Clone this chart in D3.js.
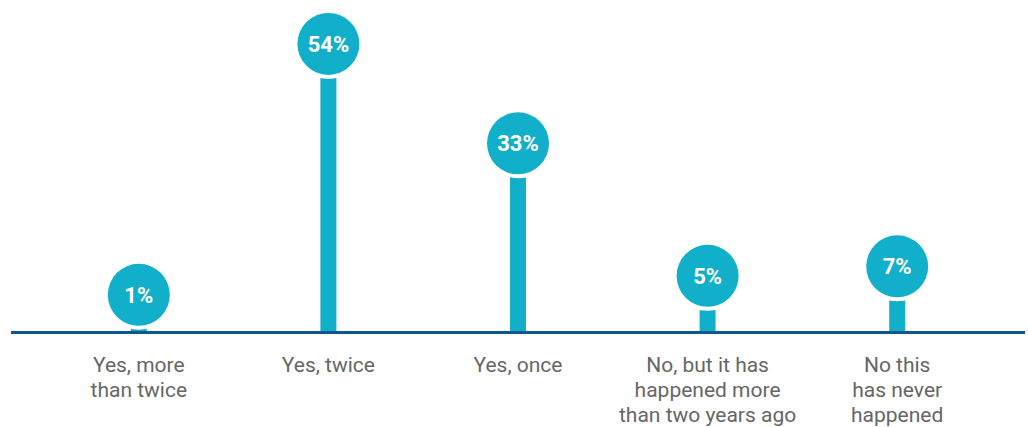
<!DOCTYPE html>
<html>
<head>
<meta charset="utf-8">
<script src="https://cdn.jsdelivr.net/npm/d3@7"></script>
<style>
  html, body { margin: 0; padding: 0; background: #fff; }
  svg { display: block; font-family: Roboto, "Noto Sans", sans-serif; }
</style>
</head>
<body>
<svg id="chart" width="1028" height="427"></svg>
<script>
// Survey answers and their shares (%)
const categories = [
  ["Yes, more", "than twice"],
  ["Yes, twice"],
  ["Yes, once"],
  ["No, but it has", "happened more", "than two years ago"],
  ["No this", "has never", "happened"]
];
const values = [1, 54, 33, 5, 7];
const valueLabels = ["1%", "54%", "33%", "5%", "7%"];

const W = 1028, H = 427;
const baseY = 332.5;
const radius = 31;
const lift = 33;        // bubble sits this far above the value position
const teal = "#12afcb";
const axisColor = "#0d5690";

const svg = d3.select("#chart");

const x = d3.scaleBand()
  .domain(d3.range(values.length))
  .range([44, 992])
  .padding(0);

const y = d3.scaleLinear()
  .domain([0, 60])
  .range([baseY, baseY - 284]);

const cx = i => x(i) + x.bandwidth() / 2;
const cy = v => y(v) - lift;

const g = svg.append("g");

// stems from the baseline up to each bubble
g.selectAll("rect.stem")
  .data(values)
  .join("rect")
  .attr("class", "stem")
  .attr("x", (d, i) => cx(i) - 8)
  .attr("width", 16)
  .attr("y", d => cy(d))
  .attr("height", d => baseY - cy(d))
  .attr("fill", teal);

// baseline
svg.append("line")
  .attr("x1", 11).attr("x2", 1025)
  .attr("y1", baseY).attr("y2", baseY)
  .attr("stroke", axisColor)
  .attr("stroke-width", 2.8);

// white halo around each bubble
g.selectAll("circle.halo")
  .data(values)
  .join("circle")
  .attr("class", "halo")
  .attr("cx", (d, i) => cx(i))
  .attr("cy", d => cy(d))
  .attr("r", radius + 4)
  .attr("fill", "#fff");

g.selectAll("circle.bubble")
  .data(values)
  .join("circle")
  .attr("class", "bubble")
  .attr("cx", (d, i) => cx(i))
  .attr("cy", d => cy(d))
  .attr("r", radius)
  .attr("fill", teal);

g.selectAll("text.value")
  .data(values)
  .join("text")
  .attr("class", "value")
  .attr("x", (d, i) => cx(i))
  .attr("y", d => cy(d) + 8)
  .attr("text-anchor", "middle")
  .attr("fill", "#fff")
  .attr("font-weight", 700)
  .attr("font-size", 22)
  .text((d, i) => valueLabels[i]);

// category labels
const labels = svg.append("g")
  .selectAll("text")
  .data(categories)
  .join("text")
  .attr("x", (d, i) => cx(i))
  .attr("y", 372)
  .attr("text-anchor", "middle")
  .attr("fill", "#666")
  .attr("font-size", 21);

labels.selectAll("tspan")
  .data(d => d)
  .join("tspan")
  .attr("x", function () { return d3.select(this.parentNode).attr("x"); })
  .attr("dy", (d, j) => j === 0 ? 0 : 25)
  .text(d => d);
</script>
</body>
</html>
